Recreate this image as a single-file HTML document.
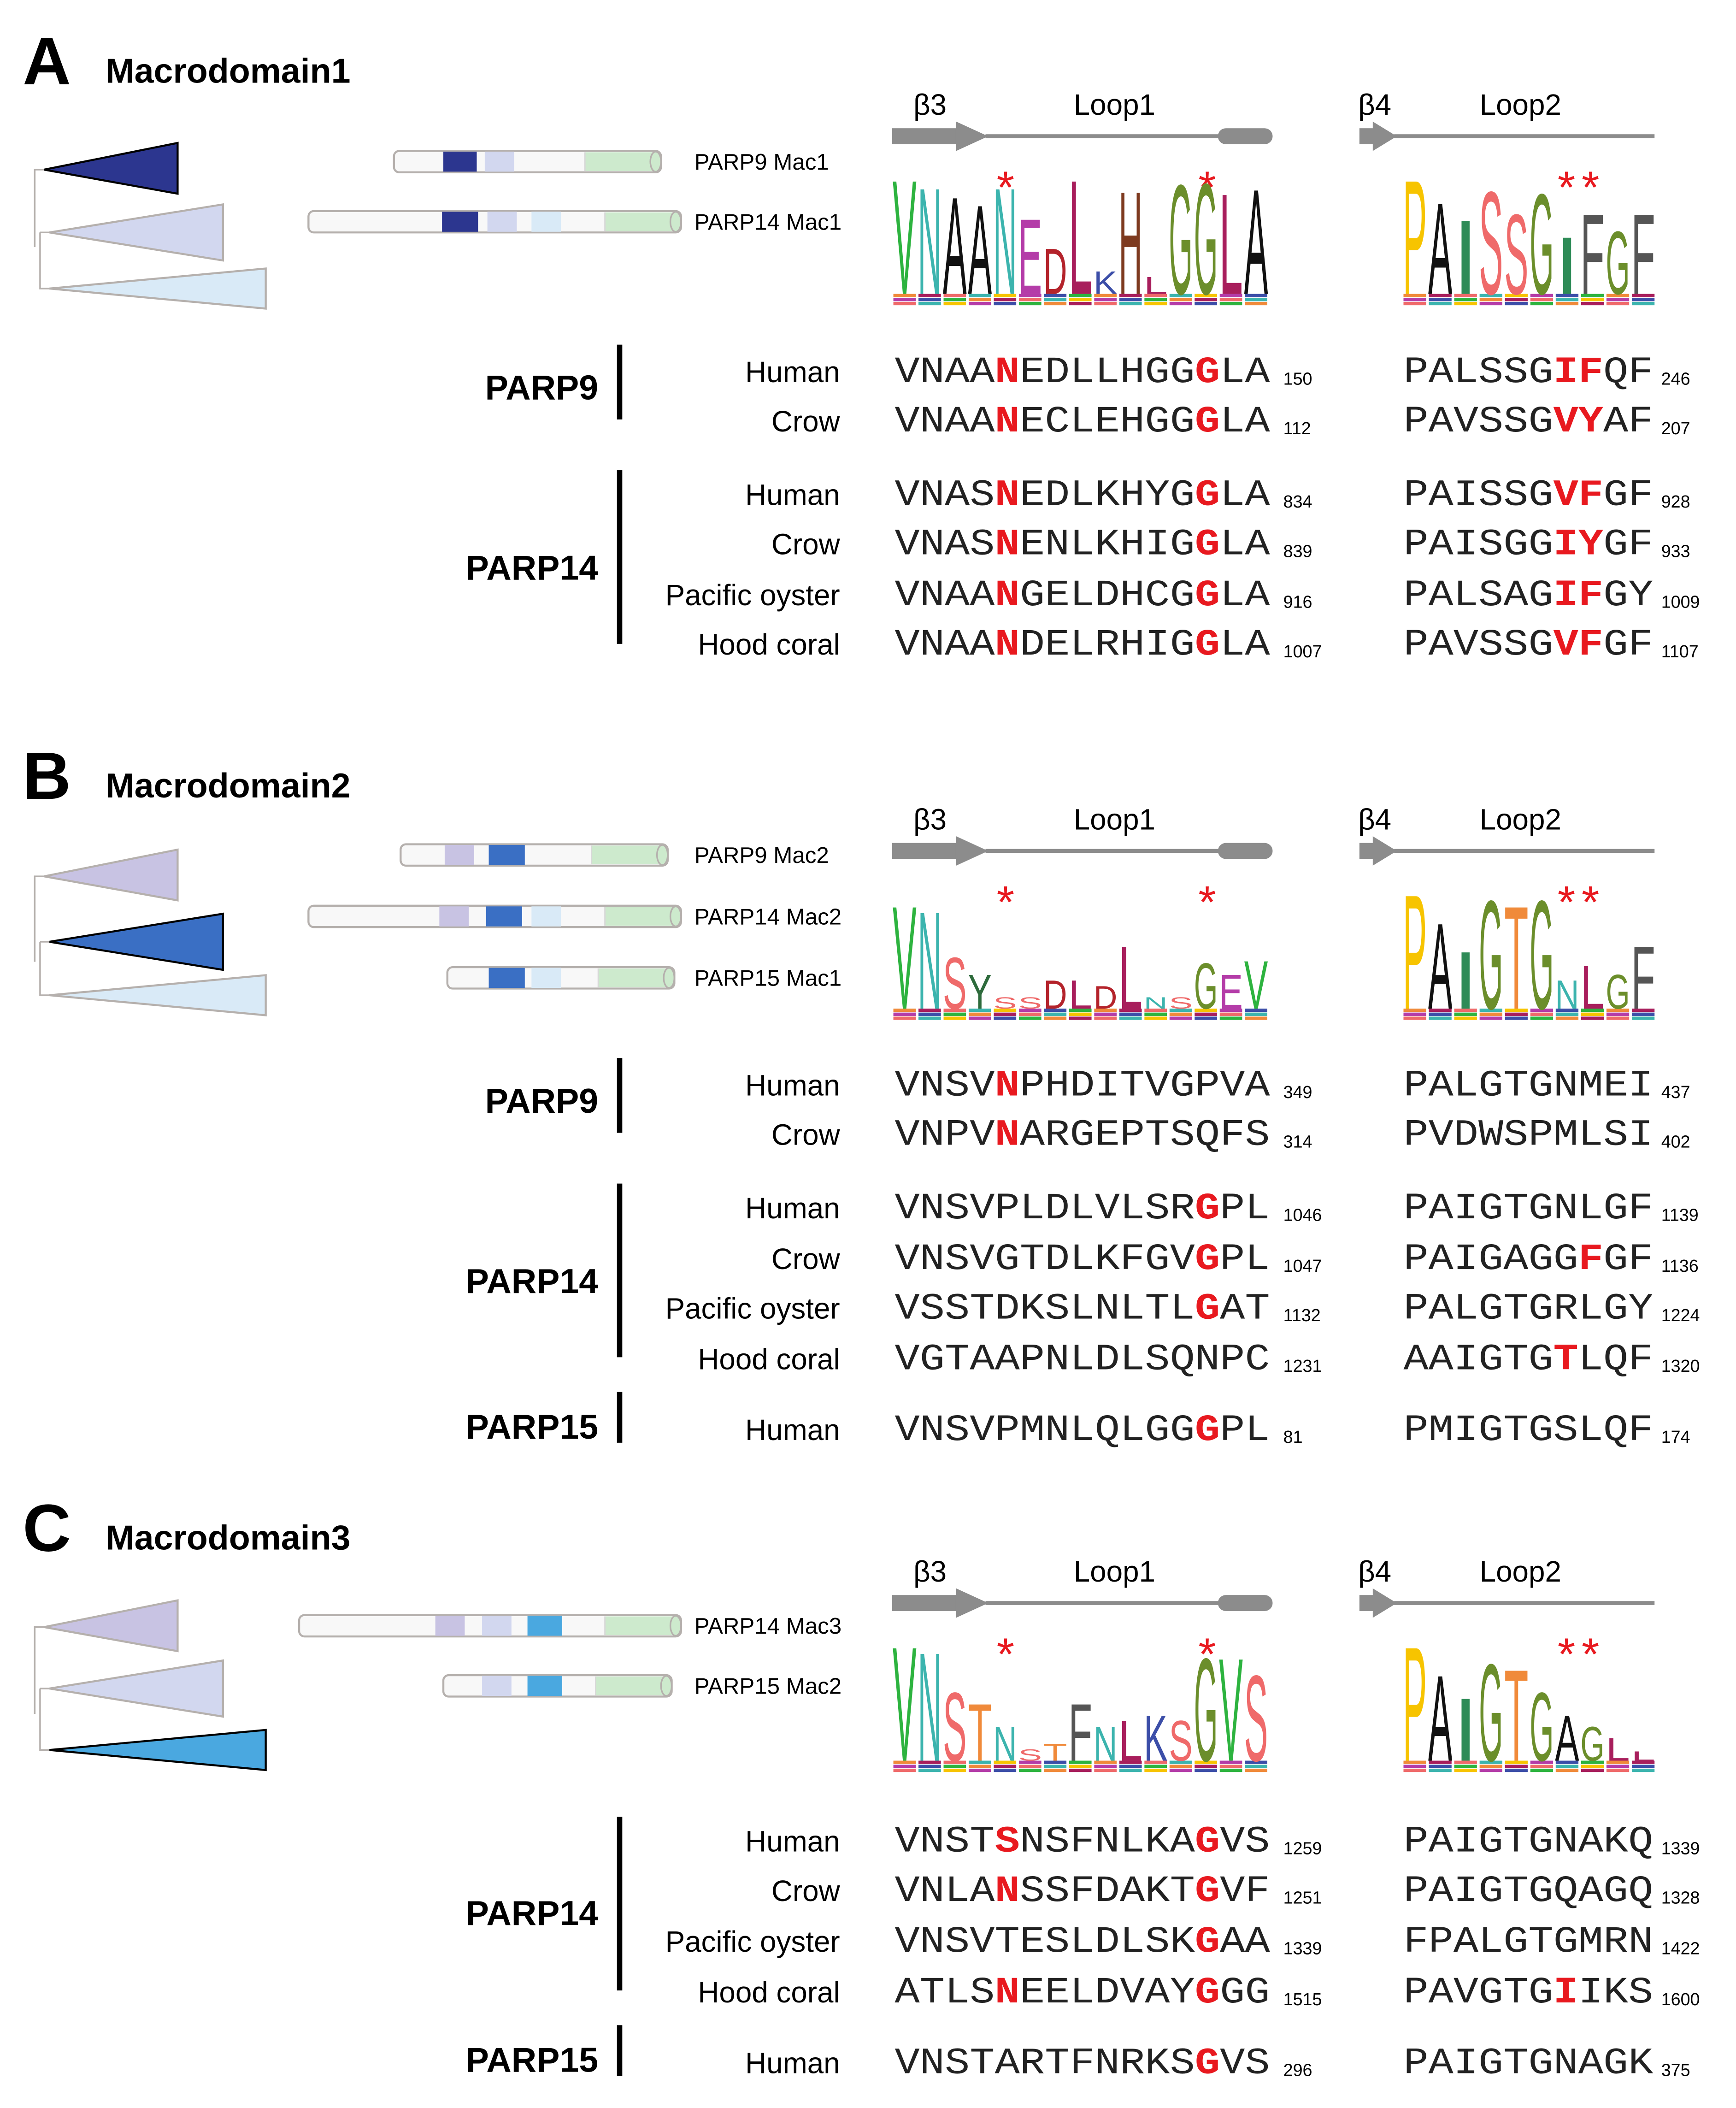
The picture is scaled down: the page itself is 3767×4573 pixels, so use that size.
<!DOCTYPE html>
<html><head><meta charset="utf-8"><style>
html,body{margin:0;padding:0;background:#fff}
svg{display:block}
</style></head><body>
<svg id="fig" xmlns="http://www.w3.org/2000/svg" width="3767" height="4573" viewBox="0 0 1300 1578" preserveAspectRatio="none" font-family="Liberation Sans, sans-serif">
<rect width="1300" height="1578" fill="#fff"/>
</svg>
<script>
// ---- data ----
const panelLetters = ["A","B","C"];
const panelTitles = ["Macrodomain1","Macrodomain2","Macrodomain3"];
const logoA1 = [["V",1.0],["N",.93],["A",.85],["A",.78],["N",.93],["E",.66],["D",.4],["L",1.0],["K",.2],["H",.9],["L",.15],["G",.96],["G",.97],["L",.88],["A",.92]];
const logoA2 = [["P",1.0],["A",.8],["I",.65],["S",.9],["S",.7],["G",.88],["I",.5],["F",.7],["G",.55],["F",.7]];
const logoB1 = [["V",.9],["N",.85],["S",.45],["Y",.3],["S",.1],["S",.1],["D",.25],["L",.25],["D",.2],["L",.55],["N",.1],["S",.1],["G",.4],["E",.3],["V",.42]];
const logoB2 = [["P",1.0],["A",.75],["I",.5],["G",.95],["T",.9],["G",.95],["N",.25],["L",.38],["G",.3],["F",.55]];
const logoC1 = [["V",1.0],["N",.95],["S",.6],["T",.5],["N",.3],["S",.1],["T",.15],["F",.5],["N",.3],["L",.35],["K",.4],["S",.35],["G",.9],["V",.9],["S",.75]];
const logoC2 = [["P",1.0],["A",.75],["I",.55],["G",.85],["T",.8],["G",.6],["A",.4],["G",.3],["L",.2],["L",.08]];
const logos1 = [logoA1, logoB1, logoC1];
const logos2 = [logoA2, logoB2, logoC2];
const rowsA = [
 ["PARP9","Human","VNAANEDLLHGGGLA","150",[4,12],"PALSSGIFQF","246",[6,7]],
 ["PARP9","Crow","VNAANECLEHGGGLA","112",[4,12],"PAVSSGVYAF","207",[6,7]],
 ["PARP14","Human","VNASNEDLKHYGGLA","834",[4,12],"PAISSGVFGF","928",[6,7]],
 ["PARP14","Crow","VNASNENLKHIGGLA","839",[4,12],"PAISGGIYGF","933",[6,7]],
 ["PARP14","Pacific oyster","VNAANGELDHCGGLA","916",[4,12],"PALSAGIFGY","1009",[6,7]],
 ["PARP14","Hood coral","VNAANDELRHIGGLA","1007",[4,12],"PAVSSGVFGF","1107",[6,7]]];
const rowsB = [
 ["PARP9","Human","VNSVNPHDITVGPVA","349",[4],"PALGTGNMEI","437",[]],
 ["PARP9","Crow","VNPVNARGEPTSQFS","314",[4],"PVDWSPMLSI","402",[]],
 ["PARP14","Human","VNSVPLDLVLSRGPL","1046",[12],"PAIGTGNLGF","1139",[]],
 ["PARP14","Crow","VNSVGTDLKFGVGPL","1047",[12],"PAIGAGGFGF","1136",[7]],
 ["PARP14","Pacific oyster","VSSTDKSLNLTLGAT","1132",[12],"PALGTGRLGY","1224",[]],
 ["PARP14","Hood coral","VGTAAPNLDLSQNPC","1231",[],"AAIGTGTLQF","1320",[6]],
 ["PARP15","Human","VNSVPMNLQLGGGPL","81",[12],"PMIGTGSLQF","174",[]]];
const rowsC = [
 ["PARP14","Human","VNSTSNSFNLKAGVS","1259",[4,12],"PAIGTGNAKQ","1339",[]],
 ["PARP14","Crow","VNLANSSFDAKTGVF","1251",[4,12],"PAIGTGQAGQ","1328",[]],
 ["PARP14","Pacific oyster","VNSVTESLDLSKGAA","1339",[12],"FPALGTGMRN","1422",[]],
 ["PARP14","Hood coral","ATLSNEELDVAYGGG","1515",[4,12],"PAVGTGIIKS","1600",[6]],
 ["PARP15","Human","VNSTARTFNRKSGVS","296",[12],"PAIGTGNAGK","375",[]]];
const rowYA = [277,314,369,406,444,481];
const rowYB = [811,848,903,941,978,1016,1069];
const rowYC = [1377,1414,1452,1490,1543];
const groupsA = [["PARP9",258,314,290],["PARP14",352,482,425]];
const groupsB = [["PARP9",792,848,824],["PARP14",886,1016,959],["PARP15",1042,1080,1068]];
const groupsC = [["PARP14",1360,1490,1432],["PARP15",1516,1554,1542]];
const barsA = [["PARP9 Mac1",295,495,121,[[332,25,"#2c368f"],[363,22,"#d2d7ef"]]],["PARP14 Mac1",231,510,166,[[331,27,"#2c368f"],[365,22,"#d2d7ef"],[398,22,"#d9eaf7"]]]];
const barsB = [["PARP9 Mac2",300,500,640,[[333,22,"#c8c3e3"],[366,27,"#3a6fc4"]]],["PARP14 Mac2",231,510,686,[[329,22,"#c8c3e3"],[364,27,"#3a6fc4"],[398,22,"#d9eaf7"]]],["PARP15 Mac1",335,505,732,[[366,27,"#3a6fc4"],[398,22,"#d9eaf7"]]]];
const barsC = [["PARP14 Mac3",224,510,1217,[[326,22,"#c8c3e3"],[361,22,"#d2d7ef"],[395,26,"#4aa8e0"]]],["PARP15 Mac2",332,503,1262,[[361,22,"#d2d7ef"],[395,26,"#4aa8e0"]]]];
const panelY = [0,535,1098];

const colorMap = {V:"#2db33f",N:"#3cb4ae",A:"#111",E:"#b43ca8",D:"#b4232b",L:"#a81e5c",K:"#3c4ea8",H:"#7e3a1f",G:"#6b8e2b",P:"#f7c400",I:"#2e8b57",S:"#ef6a6a",F:"#555",Y:"#2e6b3c",T:"#f08a3a",Q:"#4a7fbf",C:"#a8a82e",R:"#4a7fbf",M:"#d0287a"};
const noise = ["#ef6a6a","#3cb4ae","#f7c400","#b43ca8","#3c4ea8","#2db33f","#f08a3a","#a81e5c"];

const NS="http://www.w3.org/2000/svg";
const svg=document.getElementById('fig');
function mk(tag,attrs,parent){const e=document.createElementNS(NS,tag);for(const k in attrs)e.setAttribute(k,attrs[k]);(parent||svg).appendChild(e);return e;}
function txt(s,attrs,parent){const e=mk('text',attrs,parent);e.textContent=s;return e;}

function drawLogo(data,x0,x1,base,maxH,g){
  const w=(x1-x0)/data.length;
  data.forEach((d,i)=>{
    const x=x0+i*w;
    for(let k=0;k<3;k++){
      const r=mk('rect',{x:x+1,y:base-3*(k+1),width:w-2,height:2.5,fill:noise[(i+k*3)%noise.length]},g);
      
      
    }
    const h=d[1]*maxH;
    const b=base-9;
    const t=txt(d[0],{x:x+0.5,y:b,'font-size':(h/0.72).toFixed(2),textLength:(w-1).toFixed(2),lengthAdjust:'spacingAndGlyphs',fill:colorMap[d[0]]||'#333','font-family':'Liberation Sans, sans-serif'},g);
    
    
  });
}

function drawSeq(s,red,x,y,width,g){
  const t=mk('text',{x:x,y:y,'font-family':'Liberation Mono, monospace','font-size':'28',textLength:width,lengthAdjust:'spacingAndGlyphs',fill:'#222'},g);
  
  
  for(let i=0;i<s.length;i++){
    const sp=document.createElementNS(NS,'tspan');
    sp.textContent=s[i];
    if(red.includes(i)){sp.setAttribute('fill','#e8191f');sp.setAttribute('font-weight','bold');}
    t.appendChild(sp);
  }
}

const allRows=[rowsA,rowsB,rowsC], allRowY=[rowYA,rowYB,rowYC], allGroups=[groupsA,groupsB,groupsC], allBars=[barsA,barsB,barsC];

for(let p=0;p<3;p++){
  const oy=panelY[p];
  const g=mk('g',{});
  
  
  let e=txt(panelLetters[p],{x:17,y:oy+63,'font-size':'50','font-weight':'bold',fill:'#000'},g);
  
  e=txt(panelTitles[p],{x:79,y:oy+62,'font-size':'26','font-weight':'bold',fill:'#000'},g);
  
  const hy=oy+86, ay=oy+102;
  [["β3",684],["Loop1",804],["β4",1017],["Loop2",1108]].forEach(h=>{
    const t=txt(h[0],{x:h[1],y:hy,'font-size':'22',fill:'#000'},g);
    
  });
  const ss=mk('g',{fill:'#8c8c8c'},g);
  
  mk('rect',{x:668,y:ay-6,width:48,height:12},ss);
  mk('polygon',{points:`716,${ay-11} 740,${ay} 716,${ay+11}`},ss);
  mk('rect',{x:738,y:ay-1.5,width:178,height:3},ss);
  mk('rect',{x:912,y:ay-6,width:41,height:12,rx:6},ss);
  mk('rect',{x:1018,y:ay-6,width:12,height:12},ss);
  mk('polygon',{points:`1028,${ay-11} 1046,${ay} 1028,${ay+11}`},ss);
  mk('rect',{x:1044,y:ay-1.5,width:195,height:3},ss);
  [753,904,1173,1191].forEach(sx=>{
    const t=txt('*',{x:sx,y:oy+152,'font-size':'34','text-anchor':'middle',fill:'#e8191f'},g);
    
  });
  const lg=mk('g',{},g);
  drawLogo(logos1[p],668,950,oy+229,88,lg);
  const lg2=mk('g',{},g);
  drawLogo(logos2[p],1050,1240,oy+229,88,lg2);
  const tr=mk('g',{},g);
  const darkCol=["#2c368f","#3a6fc4","#4aa8e0"][p];
  const tris=[[33,127,133,107,145],[37,174,167,153,195],[37,216,199,201,231]];
  const fills=p==0?[darkCol,"#d2d7ef","#d9eaf7"]:p==1?["#c8c3e3",darkCol,"#d9eaf7"]:["#c8c3e3","#d2d7ef",darkCol];
  const bumps=p==0?[0,0,0]:p==1?[-6,-4,-6]:[-7,-8,-4];
  tris.forEach((t,i)=>{
    const dy=oy+bumps[i];
    mk('polygon',{points:`${t[0]},${t[1]+dy} ${t[2]},${t[3]+dy} ${t[2]},${t[4]+dy}`,fill:fills[i],stroke:(fills[i]===darkCol?'#000':'#b5b0ad'),'stroke-width':'1.5'},tr);
  });
  mk('path',{d:`M33 ${127+oy+bumps[0]} H26 V${185+oy} M30 ${174+oy+bumps[1]} H37 M30 ${174+oy+bumps[1]} V${216+oy+bumps[2]} H37`,fill:'none',stroke:'#b5b0ad','stroke-width':'1.2'},tr);
  allBars[p].forEach(b=>{
    const bg=mk('g',{},g);
    const cy=b[3], x0=b[1], x1=b[2];
    mk('rect',{x:x0,y:cy-8,width:x1-x0,height:16,rx:4,fill:'#f8f8f8',stroke:'#b5b0ad','stroke-width':'1.5'},bg);
    mk('rect',{x:x1-57,y:cy-7,width:55,height:14,fill:'#cdeacd'},bg);
    mk('line',{x1:x1-57,y1:cy-7,x2:x1-57,y2:cy+7,stroke:'#d8d8d8','stroke-width':'1'},bg);
    b[4].forEach(s=>{mk('rect',{x:s[0],y:cy-7.5,width:s[1],height:15,fill:s[2]},bg);});
    mk('ellipse',{cx:x1-4,cy:cy,rx:4,ry:7.5,fill:'#cdeacd',stroke:'#b5b0ad','stroke-width':'1.2'},bg);
    const t=txt(b[0],{x:520,y:cy+6,'font-size':'17',fill:'#000'},g);
    
  });
  allGroups[p].forEach(gr=>{
    const t=txt(gr[0],{x:448,y:gr[3]+9,'font-size':'26','font-weight':'bold','text-anchor':'end',fill:'#000'},g);
    
    const l=mk('rect',{x:462,y:gr[1],width:4,height:gr[2]-gr[1]},g);
    
  });
  allRows[p].forEach((r,i)=>{
    const y=allRowY[p][i]+9;
    const t=txt(r[1],{x:629,y:y,'font-size':'22','text-anchor':'end',fill:'#000'},g);
    
    drawSeq(r[2],r[4],670,y,281,g);
    let n=txt(r[3],{x:961,y:y+2,'font-size':'13',fill:'#000'},g);
    
    drawSeq(r[5],r[7],1051,y,187,g);
    n=txt(r[6],{x:1244,y:y+2,'font-size':'13',fill:'#000'},g);
    
  });
}
</script>
</body></html>
